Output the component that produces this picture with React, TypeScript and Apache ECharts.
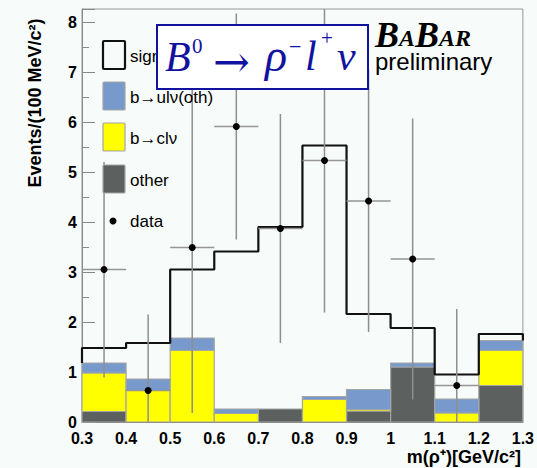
import React, { useEffect, useRef } from "react";
import * as echarts from "echarts";

// ---- data ----
const binEdges = [0.3, 0.4, 0.5, 0.6, 0.7, 0.8, 0.9, 1.0, 1.1, 1.2, 1.3];
const otherVals = [0.21, 0, 0, 0, 0.26, 0, 0.22, 1.1, 0, 0.73];
const bclVals = [0.77, 0.63, 1.43, 0.17, 0, 0.45, 0.03, 0, 0.18, 0.7];
const bulVals = [0.2, 0.23, 0.25, 0.09, 0, 0.06, 0.4, 0.08, 0.28, 0.2];
const signalVals = [0.3, 0.72, 1.37, 3.15, 3.64, 5.02, 1.51, 0.7, 0.49, 0.13];

const dataX = [0.35, 0.45, 0.55, 0.65, 0.75, 0.85, 0.95, 1.05, 1.15];
const dataY = [3.05, 0.63, 3.49, 5.91, 3.87, 5.23, 4.42, 3.26, 0.73];
const dataLow = [0.89, 0, 0.18, 3.65, 1.58, 2.19, 1.8, 0.45, 0];
const dataHigh = [5.2, 2.15, 6.9, 8.17, 6.16, 8.6, 7.05, 6.07, 2.26];

const legendNames = ["signal", "b\u2192ul\u03bd(oth)", "b\u2192cl\u03bd", "other", "data"];

const BG = "#f7fbf9";
const BLUE = "#7799cc";
const YELLOW = "#ffff00";
const DARK = "#5c605e";
const EDGE = "#a4a6a5";
const TITLE_BLUE = "#1212a0";
const SANS = "'Liberation Sans', Arial, Helvetica, sans-serif";
const SERIF = "'Liberation Serif', 'Times New Roman', serif";

function buildLayer(base: number[], vals: number[]) {
  return vals.map((v, i) => [binEdges[i], binEdges[i + 1], base[i], base[i] + v]);
}

export default function App() {
  const ref = useRef<HTMLDivElement>(null);
  useEffect(() => {
    if (!ref.current) return;
    const chart = echarts.init(ref.current, undefined, { renderer: "svg" });

    const zero = otherVals.map(() => 0);
    const otherLayer = buildLayer(zero, otherVals);
    const base1 = otherVals.map((v) => v);
    const bclLayer = buildLayer(base1, bclVals);
    const base2 = base1.map((v, i) => v + bclVals[i]);
    const bulLayer = buildLayer(base2, bulVals);
    const base3 = base2.map((v, i) => v + bulVals[i]);
    const totals = base3.map((v, i) => v + signalVals[i]);

    const stepPts: number[][] = [[binEdges[0], base3[0]]];
    totals.forEach((t, i) => {
      stepPts.push([binEdges[i], t]);
      stepPts.push([binEdges[i + 1], t]);
    });
    stepPts.push([binEdges[binEdges.length - 1], base3[base3.length - 1]]);

    const errData = dataX.map((x, i) => [x, dataY[i], dataLow[i], dataHigh[i]]);

    const rectRender = (fill: string) => (params: any, api: any) => {
      const x0 = api.value(0), x1 = api.value(1), y0 = api.value(2), y1 = api.value(3);
      if (y1 - y0 <= 0) return { type: "group", children: [] };
      const p0 = api.coord([x0, y0]);
      const p1 = api.coord([x1, y1]);
      return {
        type: "rect",
        shape: { x: p0[0], y: p1[1], width: p1[0] - p0[0], height: p0[1] - p1[1] },
        style: { fill, stroke: EDGE, lineWidth: 1.2 },
      };
    };

    const halfBin = 0.05;
    const errRender = (params: any, api: any) => {
      const x = api.value(0), y = api.value(1), lo = api.value(2), hi = api.value(3);
      const pc = api.coord([x, y]);
      const pl = api.coord([x - halfBin, y]);
      const pr = api.coord([x + halfBin, y]);
      const plo = api.coord([x, lo]);
      const phi = api.coord([x, hi]);
      return {
        type: "group",
        children: [
          { type: "line", shape: { x1: plo[0], y1: plo[1], x2: phi[0], y2: phi[1] }, style: { stroke: "#8f8f8f", lineWidth: 1.5 } },
          { type: "line", shape: { x1: pl[0], y1: pl[1], x2: pr[0], y2: pr[1] }, style: { stroke: "#959595", lineWidth: 1.5 } },
          { type: "circle", shape: { cx: pc[0], cy: pc[1], r: 3.5 }, style: { fill: "#000" } },
        ],
      };
    };

    const txt = (text: string, x: number, y: number, font: string, fill: string, align = "left", z = 30, extra: any = {}) => ({
      type: "text",
      x,
      y,
      z,
      ...extra,
      style: {
        text,
        font,
        fill,
        textAlign: align,
        align,
        textVerticalAlign: "middle",
        verticalAlign: "middle",
      },
    });

    const legendBox = (y: number, fill: string, stroke: string, lw: number) => ({
      type: "rect",
      z: 25,
      shape: { x: 103, y, width: 22, height: 28, r: 1 },
      style: { fill, stroke, lineWidth: lw },
    });

    const legendFont = `17px ${SANS}`;

    chart.setOption({
      animation: false,
      backgroundColor: BG,
      grid: { left: 82, right: 12, top: 9, bottom: 46, show: true, borderColor: "#999", borderWidth: 1, backgroundColor: BG },
      xAxis: {
        type: "value",
        min: 0.3,
        max: 1.3,
        interval: 0.1,
        axisLine: { show: true, lineStyle: { color: "#777", width: 1 } },
        axisTick: { show: false },
        splitLine: { show: false },
        axisLabel: {
          color: "#000",
          fontFamily: SANS,
          fontWeight: "bold",
          fontSize: 16,
          margin: 8,
          formatter: (v: number) => String(parseFloat(v.toFixed(1))),
        },
      },
      yAxis: {
        type: "value",
        min: 0,
        max: 8.26,
        interval: 1,
        axisLine: { show: true, lineStyle: { color: "#888", width: 1 } },
        axisTick: { show: true, inside: true, length: 13, lineStyle: { color: "#888" } },
        minorTick: { show: true, splitNumber: 2, length: 7, lineStyle: { color: "#888" } },
        splitLine: { show: false },
        axisLabel: {
          color: "#000",
          fontFamily: SANS,
          fontWeight: "bold",
          fontSize: 16,
          margin: 5,
          showMaxLabel: false,
          formatter: (v: number) => (Math.abs(v - Math.round(v)) < 1e-6 ? String(Math.round(v)) : ""),
        },
      },
      series: [
        { type: "custom", name: "other", z: 2, data: otherLayer, dimensions: ["x0", "x1", "y0", "y1"], encode: { x: [0, 1], y: [2, 3] }, renderItem: rectRender(DARK) },
        { type: "custom", name: "b\u2192cl\u03bd", z: 2, data: bclLayer, dimensions: ["x0", "x1", "y0", "y1"], encode: { x: [0, 1], y: [2, 3] }, renderItem: rectRender(YELLOW) },
        { type: "custom", name: "b\u2192ul\u03bd(oth)", z: 2, data: bulLayer, dimensions: ["x0", "x1", "y0", "y1"], encode: { x: [0, 1], y: [2, 3] }, renderItem: rectRender(BLUE) },
        {
          type: "line",
          name: "signal",
          z: 3,
          data: stepPts,
          symbol: "none",
          lineStyle: { color: "#111", width: 2.2 },
        },
        {
          type: "custom",
          name: "data",
          z: 4,
          clip: true,
          data: errData,
          dimensions: ["x", "y", "lo", "hi"],
          encode: { x: 0, y: [1, 2, 3] },
          renderItem: errRender,
        },
      ],
      graphic: [
        // legend
        legendBox(41, "rgba(0,0,0,0)", "#111", 2.2),
        legendBox(82, BLUE, EDGE, 1.2),
        legendBox(123, YELLOW, EDGE, 1.2),
        legendBox(165, DARK, EDGE, 1.2),
        { type: "circle", z: 25, shape: { cx: 113, cy: 221, r: 3.5 }, style: { fill: "#000" } },
        txt(legendNames[0], 130, 56, legendFont, "#000", "left", 25),
        txt(legendNames[1], 130, 97, legendFont, "#000", "left", 25),
        txt(legendNames[2], 130, 138, legendFont, "#000", "left", 25),
        txt(legendNames[3], 130, 180, legendFont, "#000", "left", 25),
        txt(legendNames[4], 130, 221, legendFont, "#000", "left", 25),
        // title box
        { type: "rect", z: 40, shape: { x: 157, y: 25, width: 211, height: 64 }, style: { fill: "#fff", stroke: TITLE_BLUE, lineWidth: 2 } },
        txt("B", 165, 57, `italic 42px ${SERIF}`, TITLE_BLUE, "left", 41),
        txt("0", 192, 46, `21px ${SERIF}`, TITLE_BLUE, "left", 41),
        txt("\u2192", 213, 61, `44px 'DejaVu Serif', serif`, TITLE_BLUE, "left", 41),
        txt("\u03c1", 265, 55, `italic 46px ${SERIF}`, TITLE_BLUE, "left", 41),
        txt("\u2212", 289, 46, `22px ${SERIF}`, TITLE_BLUE, "left", 41),
        txt("l", 305, 56, `italic 42px ${SERIF}`, TITLE_BLUE, "left", 41),
        txt("+", 321, 38, `21px ${SERIF}`, TITLE_BLUE, "left", 41),
        txt("\u03bd", 337, 56, `italic 42px ${SERIF}`, TITLE_BLUE, "left", 41),
        // BABAR logo + preliminary (one rich text block)
        {
          type: "text",
          x: 375,
          y: 20,
          z: 30,
          style: {
            text: "{b|B}{a|A}{b|B}{a|AR}\n{p|preliminary}",
            textAlign: "left",
            align: "left",
            textVerticalAlign: "top",
            verticalAlign: "top",
            fill: "#000",
            rich: {
              b: { fontFamily: SERIF, fontStyle: "italic", fontWeight: "bold", fontSize: 36, lineHeight: 30, fill: "#000", color: "#000" },
              a: { fontFamily: SERIF, fontStyle: "italic", fontWeight: "bold", fontSize: 24, lineHeight: 21, verticalAlign: "bottom", fill: "#000", color: "#000" },
              p: { fontFamily: SANS, fontSize: 24, lineHeight: 22, fill: "#000", color: "#000" },
            },
          },
        },
        // axis titles
        txt("Events/(100 MeV/c\u00b2)", 35, 103, `bold 18px ${SANS}`, "#000", "center", 30, { rotation: Math.PI / 2 }),
        txt("m(\u03c1\u207a)[GeV/c\u00b2]", 521, 457, `bold 18px ${SANS}`, "#000", "right", 30),
      ],
    });

    return () => chart.dispose();
  }, []);

  return <div ref={ref} style={{ position: "fixed", left: 0, top: 0, width: 537, height: 468 }} />;
}
